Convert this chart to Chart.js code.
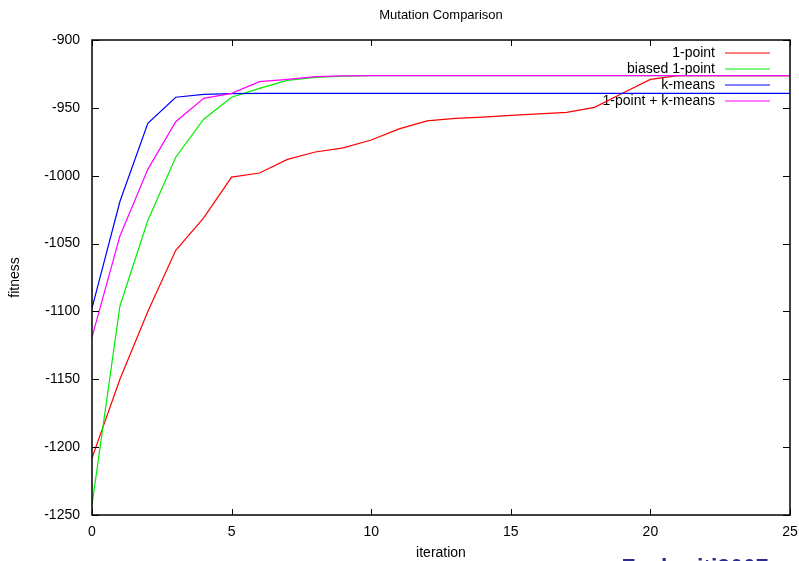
<!DOCTYPE html>
<html>
<head>
<meta charset="utf-8">
<script src="https://cdn.jsdelivr.net/npm/chart.js@4/dist/chart.umd.min.js"></script>
<style>
  body { margin: 0; background: #fff; }
  #wrap { width: 799px; height: 561px; }
</style>
</head>
<body>
<div id="wrap"><canvas id="myChart" width="799" height="561"></canvas></div>
<script>
// iterations 0..25
var iterations = [0,1,2,3,4,5,6,7,8,9,10,11,12,13,14,15,16,17,18,19,20,21,22,23,24,25];

var onePoint =      [-1208,-1150,-1100,-1055,-1031,-1001,-998,-988,-982.5,-979.5,-973.7,-965.5,-959.6,-957.7,-956.8,-955.5,-954.5,-953.3,-949.6,-939.3,-929,-926.3,-926.3,-926.3,-926.3,-926.3];
var biasedOnePoint =[-1242.5,-1096,-1033,-986.4,-958.4,-942.2,-935.6,-929.8,-927.5,-926.6,-926.3,-926.3,-926.3,-926.3,-926.3,-926.3,-926.3,-926.3,-926.3,-926.3,-926.3,-926.3,-926.3,-926.3,-926.3,-926.3];
var kMeans =        [-1097.5,-1019,-961.4,-942.2,-940,-939.5,-939.3,-939.3,-939.3,-939.3,-939.3,-939.3,-939.3,-939.3,-939.3,-939.3,-939.3,-939.3,-939.3,-939.3,-939.3,-939.3,-939.3,-939.3,-939.3,-939.3];
var onePointKMeans =[-1119,-1044.4,-995.3,-960.2,-943,-939.3,-930.7,-929,-927,-926.5,-926.3,-926.3,-926.3,-926.3,-926.3,-926.3,-926.3,-926.3,-926.3,-926.3,-926.3,-926.3,-926.3,-926.3,-926.3,-926.3];

var seriesNames = ['1-point', 'biased 1-point', 'k-means', '1-point + k-means'];
var seriesColors = ['#ff0000', '#00ee00', '#0000ff', '#ff00ff'];
var seriesValues = [onePoint, biasedOnePoint, kMeans, onePointKMeans];

var xTicks = [0, 5, 10, 15, 20, 25];
var yTicks = [-1250, -1200, -1150, -1100, -1050, -1000, -950, -900];

var FONT = '"Liberation Sans", Arial, sans-serif';

function toPoints(vals) {
    var pts = [];
    for (var i = 0; i < vals.length; i++) {
        pts.push({ x: iterations[i], y: vals[i] });
    }
    return pts;
}

var datasets = [];
for (var i in seriesNames) {
    datasets.push({
        label: seriesNames[i],
        data: toPoints(seriesValues[i]),
        borderColor: seriesColors[i],
        borderWidth: 1.2,
        pointRadius: 0,
        tension: 0,
        fill: false,
        order: seriesNames.length - i
    });
}

// gnuplot style frame, inward ticks, key and texts
var gnuplotLook = {
    id: 'gnuplotLook',
    beforeDatasetsDraw: function(chart) {
        var ctx = chart.ctx;
        ctx.save();
        // key, top right
        ctx.font = '14px ' + FONT;
        ctx.textAlign = 'right';
        ctx.textBaseline = 'middle';
        for (var i = 0; i < seriesNames.length; i++) {
            var y = 53 + i * 16;
            ctx.fillStyle = '#000';
            ctx.fillText(seriesNames[i], 715, y);
            ctx.strokeStyle = seriesColors[i];
            ctx.lineWidth = 1.2;
            ctx.beginPath();
            ctx.moveTo(725, y);
            ctx.lineTo(770, y);
            ctx.stroke();
        }
        ctx.restore();
    },
    afterDraw: function(chart) {
        var ctx = chart.ctx;
        var a = chart.chartArea;
        var xs = chart.scales.x, ys = chart.scales.y;
        ctx.save();
        ctx.strokeStyle = '#000';
        ctx.lineWidth = 1.5;
        ctx.strokeRect(a.left, a.top, a.right - a.left, a.bottom - a.top);
        ctx.lineWidth = 1;
        ctx.beginPath();
        xTicks.forEach(function(v) {
            var px = Math.round(xs.getPixelForValue(v)) + 0.5;
            ctx.moveTo(px, a.bottom); ctx.lineTo(px, a.bottom - 6);
            ctx.moveTo(px, a.top); ctx.lineTo(px, a.top + 6);
        });
        yTicks.forEach(function(v) {
            var py = Math.round(ys.getPixelForValue(v)) + 0.5;
            ctx.moveTo(a.left, py); ctx.lineTo(a.left + 7, py);
            ctx.moveTo(a.right, py); ctx.lineTo(a.right - 7, py);
        });
        ctx.stroke();

        ctx.fillStyle = '#000';
        ctx.textAlign = 'center';
        ctx.textBaseline = 'middle';
        ctx.font = '13px ' + FONT;
        ctx.fillText('Mutation Comparison', (a.left + a.right) / 2, 15);
        ctx.font = '14px ' + FONT;
        ctx.fillText('iteration', (a.left + a.right) / 2, 553);
        ctx.save();
        ctx.translate(15, (a.top + a.bottom) / 2);
        ctx.rotate(-Math.PI / 2);
        ctx.fillText('fitness', 0, 0);
        ctx.restore();

        ctx.font = 'bold 23px ' + FONT;
        ctx.fillStyle = '#2b2b8f';
        ctx.textBaseline = 'alphabetic';
        ctx.fillText('Zachariti2007', 695, 576);
        ctx.restore();
    }
};

const config = {
    type: 'line',
    data: { datasets: datasets },
    options: {
        responsive: false,
        animation: false,
        layout: {
            padding: { top: 40, right: 9, left: 0, bottom: 0 }
        },
        plugins: {
            legend: { display: false },
            title: { display: false },
            tooltip: { enabled: false }
        },
        scales: {
            x: {
                type: 'linear',
                min: 0,
                max: 25,
                afterFit: function(s) { s.height = 46; s.paddingRight = 0; s.paddingLeft = 0; },
                afterBuildTicks: function(s) { s.ticks = xTicks.map(function(v) { return { value: v }; }); },
                grid: { display: false, drawTicks: false },
                border: { display: false },
                ticks: { color: '#000', padding: 9, font: { size: 14, family: FONT }, maxRotation: 0,
                         callback: function(v) { return String(v); } }
            },
            y: {
                type: 'linear',
                min: -1250,
                max: -900,
                afterFit: function(s) { s.width = 92; s.paddingTop = 0; s.paddingBottom = 0; },
                afterBuildTicks: function(s) { s.ticks = yTicks.map(function(v) { return { value: v }; }); },
                grid: { display: false, drawTicks: false },
                border: { display: false },
                ticks: { color: '#000', padding: 12, font: { size: 14, family: FONT },
                         callback: function(v) { return String(v); } }
            }
        }
    },
    plugins: [gnuplotLook]
};

const myChart = new Chart(document.getElementById('myChart'), config);
</script>
</body>
</html>
